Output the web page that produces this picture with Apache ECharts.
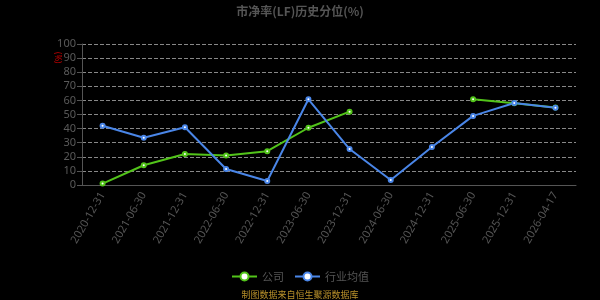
<!DOCTYPE html>
<html><head><meta charset="utf-8">
<script src="https://cdn.jsdelivr.net/npm/echarts@6/dist/echarts.min.js"></script>
<style>html,body{margin:0;padding:0;background:#000;}#c{width:600px;height:300px;}</style>
</head><body><div id="c"></div>
<script>
const categories = ['2020-12-31','2021-06-30','2021-12-31','2022-06-30','2022-12-31','2023-06-30','2023-12-31','2024-06-30','2024-12-31','2025-06-30','2025-12-31','2026-04-17'];
const companyValues = [1, 14, 22, 21, 24, 40.6, 52, null, null, 60.8, 58, 55];
const industryValues = [42, 33.5, 41, 11.3, 2.8, 60.8, 25.5, 3.5, 27, 49, 58.2, 54.8];
const yTicks = {min: 0, max: 100, interval: 10};

const chart = echarts.init(document.getElementById('c'));
chart.setOption({
  backgroundColor: '#000',
  animation: false,
  title: {text: '市净率(LF)历史分位(%)', left: 'center', top: 0,
    textStyle: {color: '#555', fontSize: 12, fontWeight: 'bold', fontFamily: 'Noto Sans CJK SC'}},
  grid: {left: 82, right: 24, top: 44, bottom: 115},
  legend: {bottom: 13, itemWidth: 25, itemHeight: 10, itemGap: 10,
    textStyle: {color: '#555', fontSize: 11, fontFamily: 'Noto Sans CJK SC'},
    data: ['公司', '行业均值']},
  graphic: [
    {type: 'text', left: 'center', top: 290,
      style: {text: '制图数据来自恒生聚源数据库', fill: '#b8902a', fontSize: 9, fontFamily: 'Noto Sans CJK SC'}},
    {type: 'text', x: 61, y: 52, rotation: -Math.PI / 2,
      style: {text: '(%)', fill: '#cc0000', fontSize: 8, fontFamily: 'Noto Sans'}}
  ],
  xAxis: {type: 'category', data: categories, boundaryGap: true,
    axisLine: {lineStyle: {color: '#555'}}, axisTick: {lineStyle: {color: '#555'}},
    axisLabel: {color: '#555', fontSize: 11, rotate: 60, interval: 0, fontFamily: 'Noto Sans'}},
  yAxis: {type: 'value', min: yTicks.min, max: yTicks.max, interval: yTicks.interval,
    axisLine: {show: true, lineStyle: {color: '#555'}}, axisTick: {show: true, lineStyle: {color: '#555'}},
    axisLabel: {color: '#5a5a5a', fontSize: 11, margin: 6, fontFamily: 'Noto Sans'},
    splitLine: {lineStyle: {color: '#888', type: 'dashed'}}},
  series: [
    {name: '公司', type: 'line', data: companyValues, connectNulls: false,
      symbol: 'emptyCircle', symbolSize: 4, color: '#52c41a',
      lineStyle: {width: 2, color: '#52c41a'}, itemStyle: {color: '#52c41a', borderWidth: 1.5}},
    {name: '行业均值', type: 'line', data: industryValues,
      symbol: 'emptyCircle', symbolSize: 4, color: '#4a86e8',
      lineStyle: {width: 2, color: '#4a86e8'}, itemStyle: {color: '#4a86e8', borderWidth: 1.5}}
  ]
});
</script></body></html>
